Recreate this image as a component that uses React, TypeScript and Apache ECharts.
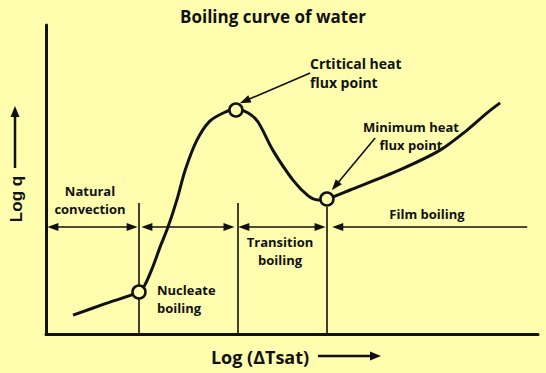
import React, { useEffect, useRef } from "react";
import * as echarts from "echarts";

// Data in axis units (0..100 on both axes: Log ΔTsat, Log q)
const curveX = [5.5, 12.2, 18.9, 20.1, 21.7, 23.2, 24.8, 26.6, 28.3, 30.7, 33.3, 36.4, 38.6, 41.1, 43.1, 46.1, 50.2, 53.3, 55.3, 57.1, 61.8, 71.9, 80.1, 85.6, 89.6, 92.3];
const curveY = [6.1, 9.9, 13.6, 15.9, 21.7, 28.2, 34.6, 43.4, 53.1, 62.8, 68.9, 71.8, 72.8, 71.5, 68.6, 59.5, 49.8, 44.7, 43.4, 43.7, 46.6, 53.1, 59.5, 66.0, 71.5, 74.8];

const pointNames = ["Onset of nucleate boiling", "Critical heat flux", "Minimum heat flux"];
const pointX = [18.9, 38.6, 57.1];
const pointY = [13.6, 72.5, 43.7];

const boundaryX = [18.9, 39.0, 57.1];
const boundaryTop = [42.4, 42.4, 41.1];

const regimeNames = ["Natural convection", "Nucleate boiling", "Transition boiling", "Film boiling"];
const regimeFrom = [1.4, 20.5, 40.2, 59.3];
const regimeTo = [17.5, 37.2, 55.7, 97.8];
const regimeTwoHeads = [true, true, true, false];
const regimeArrowY = 34.6;

const calloutFrom: [number, number][] = [[53.7, 84.5], [66.9, 63.4]];
const calloutTo: [number, number][] = [[40.4, 75.4], [58.8, 47.9]];

const INK = "#111111";
const BG = "#FEFEAE";
const FONT = "'Open Sans', 'DejaVu Sans', sans-serif";

export default function App() {
  const ref = useRef<HTMLDivElement>(null);

  useEffect(() => {
    if (!ref.current) return;
    const chart = echarts.init(ref.current, undefined, { renderer: "svg" });

    const txt = (text: string, x: number, y: number, size = 13, align = "center", lh = 18) => ({
      type: "text",
      x,
      y,
      silent: true,
      style: {
        text,
        fill: INK,
        font: `bold ${size}px ${FONT}`,
        lineHeight: lh,
        textAlign: align,
        textVerticalAlign: "middle",
      },
    });

    const option: any = {
      animation: false,
      backgroundColor: BG,
      title: {
        text: "Boiling curve of water",
        left: "center",
        top: 3,
        textStyle: { fontFamily: FONT, fontWeight: "bold", fontSize: 17, color: INK },
      },
      grid: { left: 46, right: 8, top: 25, bottom: 39 },
      xAxis: {
        type: "value",
        min: 0,
        max: 100,
        axisLine: { show: true, lineStyle: { color: INK, width: 3 } },
        axisTick: { show: false },
        axisLabel: { show: false },
        splitLine: { show: false },
      },
      yAxis: {
        type: "value",
        min: 0,
        max: 100,
        axisLine: { show: true, lineStyle: { color: INK, width: 3 } },
        axisTick: { show: false },
        axisLabel: { show: false },
        splitLine: { show: false },
      },
      series: [
        {
          name: "Regime boundaries",
          type: "line",
          data: [],
          silent: true,
          markLine: {
            silent: true,
            symbol: ["none", "none"],
            label: { show: false },
            lineStyle: { color: INK, width: 1.6, type: "solid" },
            emphasis: { disabled: true },
            data: boundaryX.map((x, i) => [{ coord: [x, boundaryTop[i]] }, { coord: [x, 0] }]),
          },
        },
        {
          name: "Regime ranges",
          type: "line",
          data: [],
          silent: true,
          markLine: {
            silent: true,
            symbolSize: [8, 11],
            label: { show: false },
            lineStyle: { color: INK, width: 1.6, type: "solid" },
            emphasis: { disabled: true },
            data: regimeNames.map((n, i) => [
              { name: n, coord: [regimeFrom[i], regimeArrowY], symbol: "triangle" },
              { coord: [regimeTo[i], regimeArrowY], symbol: regimeTwoHeads[i] ? "triangle" : "none" },
            ]),
          },
        },
        {
          name: "Callouts",
          type: "line",
          data: [],
          silent: true,
          markLine: {
            silent: true,
            symbol: ["none", "triangle"],
            symbolSize: [8, 11],
            label: { show: false },
            lineStyle: { color: INK, width: 1.6, type: "solid" },
            emphasis: { disabled: true },
            data: calloutFrom.map((f, i) => [{ coord: f }, { coord: calloutTo[i] }]),
          },
        },
        {
          name: "Boiling curve",
          type: "line",
          data: curveX.map((x, i) => [x, curveY[i]]),
          smooth: 0.3,
          showSymbol: false,
          silent: true,
          z: 3,
          lineStyle: { color: INK, width: 3 },
        },
        {
          name: "Key points",
          type: "scatter",
          data: pointX.map((x, i) => ({ name: pointNames[i], value: [x, pointY[i]] })),
          symbol: "circle",
          symbolSize: 13,
          silent: true,
          z: 5,
          itemStyle: { color: BG, borderColor: INK, borderWidth: 2.5, opacity: 1 },
        },
      ],
      graphic: [
        txt("Crtitical heat\nflux point", 310, 73, 14, "left", 19),
        txt("Minimum heat\nflux point", 411, 136, 13),
        txt("Natural\nconvection", 90, 200, 13),
        txt("Nucleate\nboiling", 157, 299, 13, "left"),
        txt("Transition\nboiling", 280, 251, 13),
        txt("Film boiling", 427, 214, 13),
        txt("Log (\u0394Tsat)", 260, 357, 18),
        {
          type: "line",
          silent: true,
          shape: { x1: 318, y1: 356, x2: 373, y2: 356 },
          style: { stroke: INK, lineWidth: 2.5 },
        },
        {
          type: "polygon",
          silent: true,
          shape: { points: [[381, 356], [370, 351.5], [370, 360.5]] },
          style: { fill: INK },
        },
        {
          type: "text",
          silent: true,
          x: 16,
          y: 199,
          rotation: Math.PI / 2,
          style: {
            text: "Log q",
            fill: INK,
            font: `bold 17px 'Liberation Sans', Arial, sans-serif`,
            textAlign: "center",
            textVerticalAlign: "middle",
          },
        },
        {
          type: "line",
          silent: true,
          shape: { x1: 15, y1: 168, x2: 15, y2: 114 },
          style: { stroke: INK, lineWidth: 2.5 },
        },
        {
          type: "polygon",
          silent: true,
          shape: { points: [[15, 106], [10.5, 117], [19.5, 117]] },
          style: { fill: INK },
        },
      ],
    };

    chart.setOption(option);
    return () => chart.dispose();
  }, []);

  return (
    <div
      ref={ref}
      style={{ position: "fixed", left: 0, top: 0, width: 546, height: 373 }}
    />
  );
}
